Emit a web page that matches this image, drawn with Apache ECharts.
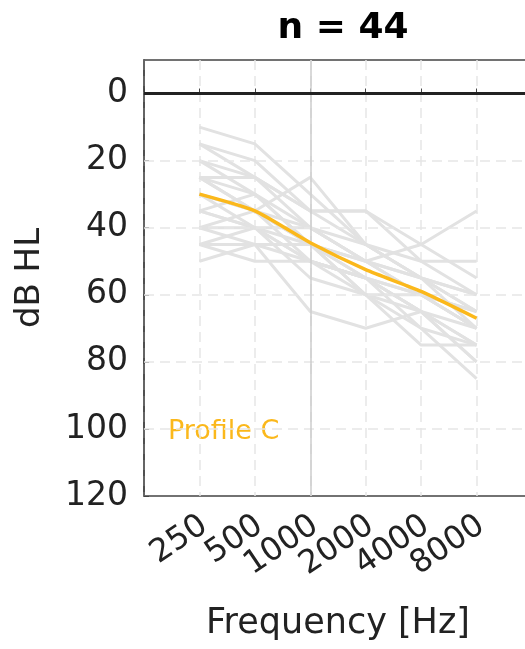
<!DOCTYPE html>
<html>
<head>
<meta charset="utf-8">
<script src="https://cdn.jsdelivr.net/npm/echarts@6/dist/echarts.min.js"></script>
<style>
  html, body { margin: 0; padding: 0; background: #fff; }
  #chart { width: 525px; height: 649px; }
</style>
</head>
<body>
<div id="chart"></div>
<script>
// x categories, one octave of padding on each side
const freqs = ['125', '250', '500', '1000', '2000', '4000', '8000', '16000'];
const measuredFreqs = ['250', '500', '1000', '2000', '4000', '8000'];
const yTicks = [0, 20, 40, 60, 80, 100, 120];

// individual audiograms (dB HL at 250..8000 Hz)
const profiles = [
  [10, 15, 30, 45, 55, 60],
  [15, 20, 35, 45, 55, 65],
  [15, 25, 40, 50, 60, 70],
  [20, 25, 35, 35, 50, 60],
  [25, 35, 25, 45, 55, 65],
  [25, 30, 40, 50, 55, 70],
  [25, 25, 35, 35, 45, 55],
  [30, 35, 45, 50, 45, 35],
  [30, 40, 40, 50, 55, 60],
  [35, 30, 45, 55, 65, 75],
  [35, 40, 50, 55, 60, 65],
  [35, 40, 45, 60, 70, 75],
  [40, 40, 50, 55, 65, 80],
  [40, 45, 65, 70, 65, 75],
  [45, 45, 45, 50, 60, 70],
  [45, 50, 50, 55, 70, 85],
  [50, 45, 50, 60, 75, 75],
  [20, 30, 45, 55, 60, 70],
  [30, 35, 40, 45, 50, 50],
  [40, 35, 45, 60, 60, 65],
  [25, 35, 50, 55, 65, 80],
  [45, 40, 55, 60, 65, 70]
];
// profile C mean
const meanProfile = [30, 35, 44.5, 52.5, 59, 67];

const FONT = 'DejaVu Sans';

function toPairs(vals) {
  return measuredFreqs.map((f, i) => [f, vals[i]]);
}

let series = profiles.map((p) => ({
  type: 'line',
  data: toPairs(p),
  symbol: 'none',
  silent: true,
  lineStyle: { color: '#e2e2e2', width: 3 },
  z: 2
}));

// grid lines + reference lines
series.push({
  type: 'line',
  data: [],
  markLine: {
    silent: true,
    symbol: 'none',
    label: { show: false },
    animation: false,
    data: [
      ...yTicks.slice(1, 6).map((v) => ({
        yAxis: v,
        lineStyle: { color: '#e6e6e6', width: 1.5, type: [10, 6] }
      })),
      { xAxis: '1000', lineStyle: { color: '#cccccc', width: 1.5, type: 'solid' } },
      { yAxis: 0, lineStyle: { color: '#222', width: 3, type: 'solid' } }
    ]
  },
  z: 1
});

series.push({
  type: 'line',
  data: toPairs(meanProfile),
  symbol: 'none',
  smooth: 0.2,
  silent: true,
  lineStyle: { color: '#fbb81b', width: 3.5 },
  z: 5
});

const chart = echarts.init(document.getElementById('chart'));
chart.setOption({
  animation: false,
  title: {
    text: 'n = 44',
    left: 338,
    textAlign: 'center',
    top: 6,
    textStyle: { fontFamily: FONT, fontSize: 36, fontWeight: 'bold', color: '#000' }
  },
  grid: {
    left: 144, right: -7, top: 60, bottom: 153,
    containLabel: false,
    outerBoundsMode: 'none',
    show: true, borderColor: '#444', borderWidth: 1.5
  },
  xAxis: {
    type: 'category',
    data: freqs,
    boundaryGap: false,
    name: 'Frequency [Hz]',
    nameLocation: 'middle',
    nameGap: 110,
    nameTextStyle: { fontFamily: FONT, fontSize: 35, color: '#222' },
    axisLine: { lineStyle: { color: '#444', width: 1.5 } },
    axisTick: { inside: true, length: 5, lineStyle: { color: '#444' } },
    axisLabel: {
      interval: 0,
      rotate: 34,
      margin: 30,
      fontFamily: FONT,
      fontSize: 32,
      color: '#222',
      padding: [0, -6, 0, 0],
      formatter: (v) => (measuredFreqs.includes(v) ? v : '')
    },
    splitLine: { show: true, lineStyle: { color: '#e6e6e6', width: 1.5, type: [10, 6] } }
  },
  yAxis: {
    type: 'value',
    inverse: true,
    min: -10,
    max: 120,
    interval: 10,
    name: 'dB HL',
    nameLocation: 'middle',
    nameGap: 97,
    nameTextStyle: { fontFamily: FONT, fontSize: 34, color: '#222' },
    axisLine: { show: true, lineStyle: { color: '#444', width: 1.5 } },
    axisTick: { show: true, inside: true, length: 5, customValues: yTicks, lineStyle: { color: '#444' } },
    axisLabel: {
      customValues: yTicks,
      margin: 16,
      fontFamily: FONT,
      fontSize: 33,
      color: '#222'
    },
    splitLine: { show: false }
  },
  graphic: [{
    type: 'text',
    left: 168,
    top: 418,
    silent: true,
    style: { text: 'Profile C', fontFamily: FONT, fontSize: 27, fill: '#fbb81b' }
  }],
  series: series
});
</script>
</body>
</html>
